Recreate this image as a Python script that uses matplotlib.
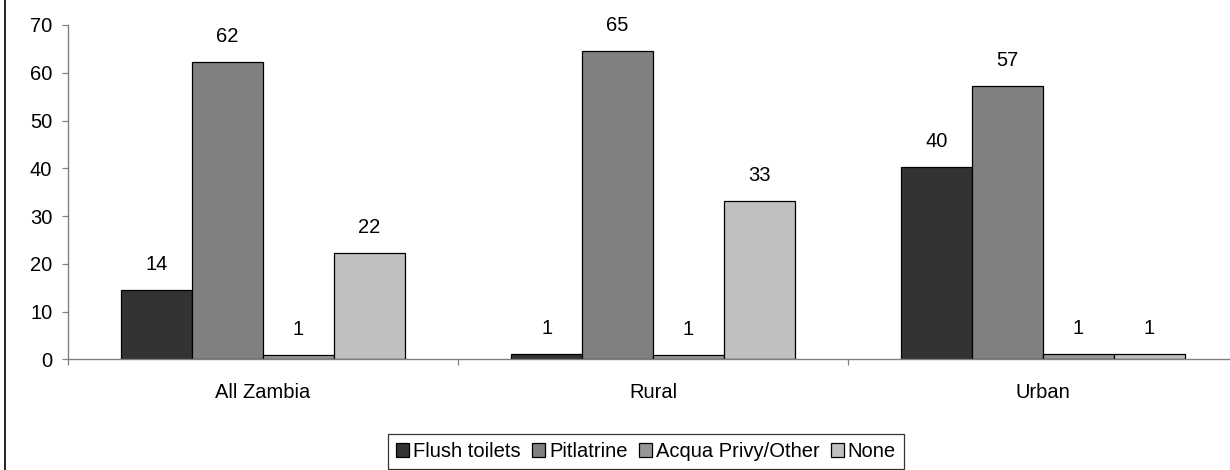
import matplotlib
matplotlib.use("Agg")
import matplotlib.pyplot as plt
from matplotlib.lines import Line2D
import numpy as np

categories = ["All Zambia", "Rural", "Urban"]
series_names = ["Flush toilets", "Pitlatrine", "Acqua Privy/Other", "None"]
flush = [14.5, 1.2, 40.3]
pit = [62.2, 64.6, 57.3]
acqua = [1.0, 0.8, 1.2]
none = [22.3, 33.1, 1.2]
labels_flush = ["14", "1", "40"]
labels_pit = ["62", "65", "57"]
labels_acqua = ["1", "1", "1"]
labels_none = ["22", "33", "1"]
yticks = [0, 10, 20, 30, 40, 50, 60, 70]

colors = ["#333333", "#808080", "#969696", "#C0C0C0"]

plt.rcParams['font.family'] = ['Liberation Sans', 'DejaVu Sans']
FS = 14.5

fig = plt.figure(figsize=(12.3, 4.7), dpi=100)
ax = fig.add_axes([68/1230, 1-359.3/470, (1238-68)/1230, (359.3-25)/470])

x = np.arange(len(categories))
w = 0.1815
all_series = [flush, pit, acqua, none]
all_labels = [labels_flush, labels_pit, labels_acqua, labels_none]
for i, (vals, labs) in enumerate(zip(all_series, all_labels)):
    pos = x + (i - 1.5) * w
    ax.bar(pos, vals, width=w, color=colors[i], edgecolor="black",
           linewidth=0.9, label=series_names[i], zorder=3)
    for xp, v, lab in zip(pos, vals, labs):
        ax.annotate(lab, (xp, v), xytext=(0, 14.4), textcoords="offset points",
                    ha="center", va="baseline", fontsize=FS, color="black")

ax.set_xlim(-0.5, 2.5)
ax.set_ylim(0, 70)
ax.set_yticks(yticks)
ax.set_yticklabels([str(t) for t in yticks])
ax.set_xticks(x)
ax.set_xticklabels(categories)
ax.set_xticks([-0.5, 0.5, 1.5, 2.5], minor=True)
ax.tick_params(axis="x", which="major", length=0, pad=17, labelsize=FS)
ax.tick_params(axis="x", which="minor", length=4.3, width=0.9, color="#808080", direction="out")
ax.tick_params(axis="y", which="major", length=4.3, width=0.9, color="#808080", pad=7, labelsize=FS)

for s in ["top", "right"]:
    ax.spines[s].set_visible(False)
for s in ["left", "bottom"]:
    ax.spines[s].set_color("#808080")
    ax.spines[s].set_linewidth(1.0)
ax.spines["bottom"].set_zorder(4)

leg = fig.legend(loc="upper center", bbox_to_anchor=(646/1230, 1-434/470),
                 ncol=4, fontsize=FS, frameon=True, fancybox=False,
                 handlelength=0.65, handleheight=0.65, handletextpad=0.2,
                 columnspacing=0.55, borderpad=0.4, borderaxespad=0)
leg.get_frame().set_edgecolor("black")
leg.get_frame().set_linewidth(0.9)

fig.add_artist(Line2D([4.5/1230, 4.5/1230], [0, 1], color="black", linewidth=1.2,
                      transform=fig.transFigure))

fig.savefig("out.png", dpi=100)
